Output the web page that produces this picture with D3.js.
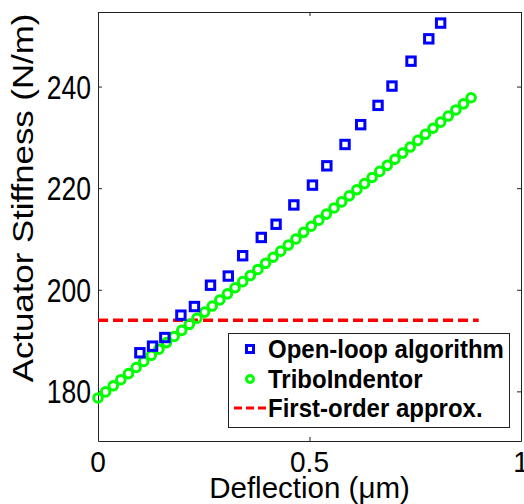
<!DOCTYPE html>
<html>
<head>
<meta charset="utf-8">
<script src="https://cdn.jsdelivr.net/npm/d3@7"></script>
<style>
  body { margin: 0; background: #fff; }
  svg { display: block; }
  text { font-family: "Liberation Sans", Arial, sans-serif; fill: #000; }
</style>
</head>
<body>
<script>
var WIDTH = 524;
var HEIGHT = 504;

// open-loop algorithm (blue squares)
var openX = [0.099, 0.129, 0.158, 0.196, 0.228, 0.266, 0.308, 0.342, 0.386, 0.421,
             0.463, 0.507, 0.541, 0.584, 0.621, 0.662, 0.695, 0.740, 0.782, 0.810];
var openY = [187.6, 188.9, 190.6, 195.0, 196.7, 200.9, 202.7, 206.7, 210.3, 212.9,
             216.7, 220.6, 224.4, 228.6, 232.5, 236.3, 240.1, 245.0, 249.4, 252.5];

// TriboIndentor (green circles)
var triboX = [0, 0.018, 0.036, 0.054, 0.072, 0.090, 0.108, 0.126, 0.144, 0.162,
              0.180, 0.198, 0.216, 0.234, 0.252, 0.270, 0.288, 0.306, 0.324, 0.342,
              0.360, 0.378, 0.396, 0.414, 0.432, 0.450, 0.468, 0.486, 0.504, 0.522,
              0.540, 0.558, 0.576, 0.594, 0.612, 0.630, 0.648, 0.666, 0.684, 0.702,
              0.720, 0.738, 0.756, 0.774, 0.792, 0.810, 0.828, 0.846, 0.864, 0.882];
var triboY = [178.7, 179.9, 181.1, 182.3, 183.5, 184.7, 185.9, 187.1, 188.3, 189.6,
              190.8, 192.0, 193.2, 194.4, 195.6, 196.8, 198.0, 199.2, 200.4, 201.6,
              202.8, 204.0, 205.2, 206.4, 207.6, 208.8, 210.0, 211.3, 212.5, 213.7,
              214.9, 216.1, 217.3, 218.5, 219.7, 220.9, 222.1, 223.3, 224.5, 225.7,
              226.9, 228.1, 229.4, 230.6, 231.8, 233.0, 234.2, 235.4, 236.6, 237.8];

// first-order approximation (red dashed)
var approxX = [0, 0.9];
var approxY = [194.0, 194.0];

var xTicks = [0, 0.5, 1];
var xTickLabels = ["0", "0.5", "1"];
var yTicks = [180, 200, 220, 240];
var yTickLabels = ["180", "200", "220", "240"];
var legendLabels = ["Open-loop algorithm", "TriboIndentor", "First-order approx."];

var LEFT = 98, RIGHT = 521, TOP = 12, BOTTOM = 441;

var x = d3.scaleLinear().domain([0, 1]).range([LEFT, RIGHT]);
var y = d3.scaleLinear().domain([170.23, 254.68]).range([BOTTOM, TOP]);

var svg = d3.select("body")
  .append("svg")
  .attr("width", WIDTH)
  .attr("height", HEIGHT);

// box + inward ticks
function styleAxis(g) {
  g.selectAll("path").attr("stroke", "#222").attr("stroke-width", 1);
  g.selectAll("line").attr("stroke", "#222").attr("stroke-width", 1);
}
svg.append("g").attr("transform", "translate(0," + BOTTOM + ")")
  .call(d3.axisBottom(x).tickValues(xTicks).tickSizeInner(-4).tickSizeOuter(0).tickFormat(""))
  .call(styleAxis);
svg.append("g").attr("transform", "translate(0," + TOP + ")")
  .call(d3.axisTop(x).tickValues(xTicks).tickSizeInner(-4).tickSizeOuter(0).tickFormat(""))
  .call(styleAxis);
svg.append("g").attr("transform", "translate(" + LEFT + ",0)")
  .call(d3.axisLeft(y).tickValues(yTicks).tickSizeInner(-4).tickSizeOuter(0).tickFormat(""))
  .call(styleAxis);
svg.append("g").attr("transform", "translate(" + RIGHT + ",0)")
  .call(d3.axisRight(y).tickValues(yTicks).tickSizeInner(-4).tickSizeOuter(0).tickFormat(""))
  .call(styleAxis);

// tick labels (the picture is a bit stretched vertically)
svg.selectAll(".xlab")
  .data(xTicks)
  .enter().append("text")
  .attr("transform", function (d) { return "translate(" + x(d) + ",472) scale(1,1.05)"; })
  .attr("text-anchor", "middle")
  .style("font-size", "28px")
  .text(function (d, i) { return xTickLabels[i]; });

svg.selectAll(".ylab")
  .data(yTicks)
  .enter().append("text")
  .attr("transform", function (d) { return "translate(91," + y(d) + ") scale(1,1.25)"; })
  .attr("text-anchor", "end")
  .attr("dy", "0.36em")
  .style("font-size", "26.5px")
  .text(function (d, i) { return yTickLabels[i]; });

svg.append("text")
  .attr("transform", "translate(" + x(0.5) + ",498)")
  .attr("text-anchor", "middle")
  .style("font-size", "29.5px")
  .text("Deflection (\u03bcm)");

svg.append("text")
  .attr("transform", "translate(33,198) scale(1,1.2) rotate(-90)")
  .attr("text-anchor", "middle")
  .style("font-size", "29px")
  .text("Actuator Stiffness (N/m)");

// red dashed line
var line = d3.line()
  .x(function (d) { return x(d[0]); })
  .y(function (d) { return y(d[1]); });

svg.append("path")
  .datum(d3.zip(approxX, approxY))
  .attr("d", line)
  .attr("fill", "none")
  .attr("stroke", "#ff0000")
  .attr("stroke-width", 3.5)
  .attr("stroke-dasharray", "10,5");

// green circles
svg.selectAll(".tribo")
  .data(d3.zip(triboX, triboY))
  .enter().append("circle")
  .attr("cx", function (d) { return x(d[0]); })
  .attr("cy", function (d) { return y(d[1]); })
  .attr("r", 4.3)
  .attr("fill", "none")
  .attr("stroke", "#00ff00")
  .attr("stroke-width", 3);

// blue squares
svg.selectAll(".open")
  .data(d3.zip(openX, openY))
  .enter().append("rect")
  .attr("x", function (d) { return x(d[0]) - 4.2; })
  .attr("y", function (d) { return y(d[1]) - 4.2; })
  .attr("width", 8.4)
  .attr("height", 8.4)
  .attr("fill", "none")
  .attr("stroke", "#0000ff")
  .attr("stroke-width", 3);

// legend
var leg = svg.append("g");
leg.append("rect")
  .attr("x", 228.5).attr("y", 333.5)
  .attr("width", 281).attr("height", 94)
  .attr("fill", "#fff")
  .attr("stroke", "#222")
  .attr("stroke-width", 1);

var rowY = [349, 379, 408];
leg.append("rect")
  .attr("x", 250 - 3.5).attr("y", rowY[0] - 3.5)
  .attr("width", 7).attr("height", 7)
  .attr("fill", "none").attr("stroke", "#0000ff").attr("stroke-width", 3);
leg.append("circle")
  .attr("cx", 250).attr("cy", rowY[1]).attr("r", 3.5)
  .attr("fill", "none").attr("stroke", "#00ff00").attr("stroke-width", 3);
leg.append("line")
  .attr("x1", 234).attr("x2", 266).attr("y1", rowY[2]).attr("y2", rowY[2])
  .attr("stroke", "#ff0000").attr("stroke-width", 3).attr("stroke-dasharray", "8,4");

leg.selectAll(".lt")
  .data(legendLabels)
  .enter().append("text")
  .attr("transform", function (d, i) { return "translate(268," + (rowY[i] + 9) + ") scale(1,1.08)"; })
  .style("font-size", "24px")
  .style("font-weight", "bold")
  .text(function (d) { return d; });
</script>
</body>
</html>
